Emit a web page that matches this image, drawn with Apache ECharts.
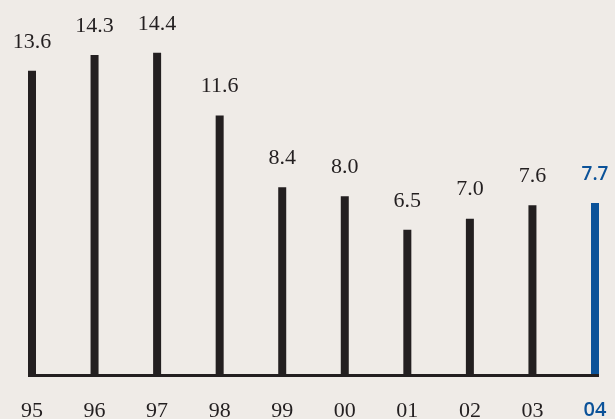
<!DOCTYPE html>
<html>
<head>
<meta charset="utf-8">
<style>
  html, body { margin: 0; padding: 0; background: #efebe7; }
  #chart { width: 615px; height: 419px; }
</style>
<script src="https://cdn.jsdelivr.net/npm/echarts@6/dist/echarts.min.js"></script>
</head>
<body>
<div id="chart"></div>
<script>
// Annual values, 1995–2004
const years = ['95', '96', '97', '98', '99', '00', '01', '02', '03', '04'];
const values = [13.6, 14.3, 14.4, 11.6, 8.4, 8.0, 6.5, 7.0, 7.6, 7.7];

const DARK = '#231f20';
const BLUE = '#0b5299';
const SERIF = '"Liberation Serif", "DejaVu Serif", serif';
const SANS = '"Open Sans", "Noto Sans", sans-serif';
const lastIdx = values.length - 1;

const chart = echarts.init(document.getElementById('chart'), null, { renderer: 'canvas' });

const barData = values.map((v, i) => {
  if (i !== lastIdx) return v;
  return {
    value: v,
    itemStyle: { color: BLUE },
    label: { color: BLUE, fontFamily: SANS, fontWeight: 600, fontSize: 19, distance: 19 }
  };
});

chart.setOption({
  backgroundColor: '#efebe7',
  animation: false,
  grid: { left: 32, right: 20, top: 17, bottom: 43.5, outerBoundsMode: 'none', containLabel: false },
  xAxis: {
    type: 'category',
    data: years,
    boundaryGap: false,
    axisLine: { show: false },
    axisTick: { show: false },
    axisLabel: {
      interval: 0,
      hideOverlap: false,
      margin: 25,
      fontSize: 22,
      fontFamily: SERIF,
      color: DARK,
      formatter: (val, idx) => idx === lastIdx ? '{hl|' + val + '}' : val,
      rich: {
        hl: { color: BLUE, fontFamily: SANS, fontWeight: 600, fontSize: 20 }
      }
    }
  },
  yAxis: {
    type: 'value',
    min: 0,
    max: 16,
    show: false
  },
  series: [{
    type: 'bar',
    data: barData,
    barWidth: 8,
    clip: false,
    itemStyle: { color: DARK },
    label: {
      show: true,
      position: 'top',
      distance: 18,
      fontSize: 22,
      fontFamily: SERIF,
      color: DARK,
      formatter: p => p.value.toFixed(1)
    }
  }]
});

// Baseline spanning from the outer edge of the first bar to the outer edge of the last bar
const x0 = chart.convertToPixel({ xAxisIndex: 0 }, 0) - 4;
const x1 = chart.convertToPixel({ xAxisIndex: 0 }, lastIdx) + 4;
const y0 = chart.convertToPixel({ yAxisIndex: 0 }, 0);
chart.setOption({
  graphic: [{
    type: 'line',
    shape: { x1: x0, y1: y0, x2: x1, y2: y0 },
    style: { stroke: DARK, lineWidth: 3 },
    z: 10
  }]
});
</script>
</body>
</html>
